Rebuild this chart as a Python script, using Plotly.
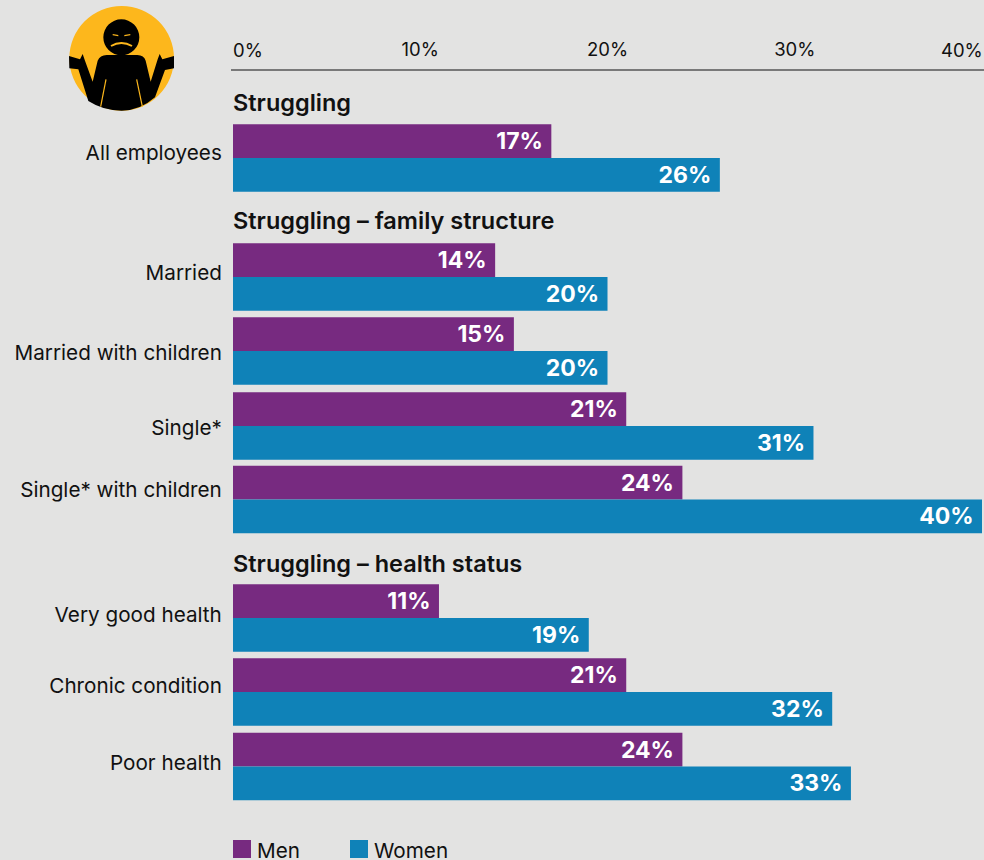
import plotly.graph_objects as go

groups = ["All employees", "Married", "Married with children", "Single*", "Single* with children",
          "Very good health", "Chronic condition", "Poor health"]
men = [17, 14, 15, 21, 24, 11, 21, 24]
women = [26, 20, 20, 31, 40, 19, 32, 33]
headings = ["Struggling", "Struggling – family structure", "Struggling – health status"]
legend_names = ["Men", "Women"]
x_ticks = [0, 10, 20, 30, 40]

# layout constants (page pixels)
W, H = 984, 860
L, R, T = 233, 2, 70
row_pos = [158, 277, 351, 426, 499.5, 618, 692, 766.5]
label_pos = [152.5, 272.5, 352.5, 427.5, 489.5, 614.5, 685.5, 762.5]
heading_pos = [102.5, 220.5, 563.5]
legend_left = [233, 350]

BG = "#e3e3e2"
MEN = "#772a80"
WOMEN = "#0f82b8"
YELLOW = "#fdb71c"
INK = "#111111"
FONT = "Inter"

fig = go.Figure()
for name, vals, col in [(legend_names[0], men, MEN), (legend_names[1], women, WOMEN)]:
    fig.add_trace(go.Bar(
        y=row_pos, x=vals, name=name, orientation="h", marker=dict(color=col, line_width=0),
        text=[f"{v}%\u00a0" for v in vals], textposition="inside", insidetextanchor="end",
        textangle=0, constraintext="none", cliponaxis=False,
        textfont=dict(family=FONT, size=23, color="white", weight=700),
        showlegend=False, hoverinfo="skip"))


def px(x):
    return (x - L) / (W - L - R)


def py(y):
    return 1 - (y - T) / (H - T)


def zx(v):
    return px(50 + v / 3)


def zy(v):
    return py(v / 3)


def path(cmds):
    out = []
    for c in cmds:
        if len(c) == 3:
            out.append(f"{c[0]} {zx(c[1]):.5f} {zy(c[2]):.5f}")
        else:
            out.append(f"{c[0]} {zx(c[1]):.5f} {zy(c[2]):.5f} {zx(c[3]):.5f} {zy(c[4]):.5f}")
    return " ".join(out)


def pshape(p, fill=None, line=None, lw=0):
    return dict(type="path", xref="paper", yref="paper", path=p, fillcolor=fill,
                line=dict(color=line, width=lw) if line else dict(width=0), layer="above")


def circ(cx, cy, r, col):
    return dict(type="circle", xref="paper", yref="paper", x0=zx(cx - r), x1=zx(cx + r),
                y0=zy(cy - r), y1=zy(cy + r), fillcolor=col, line_width=0, layer="above")


body = path([("M", 115, 303), ("L", 85, 208), ("L", 58, 205), ("L", 57, 168), ("L", 90, 178), ("L", 98, 162),
             ("L", 105, 182), ("L", 128, 245), ("L", 143, 182), ("Q", 150, 166, 170, 165), ("L", 262, 165),
             ("Q", 282, 166, 287, 182), ("L", 302, 245), ("L", 323, 178), ("L", 329, 162), ("L", 337, 178),
             ("L", 372, 168), ("L", 372, 205), ("L", 345, 210), ("L", 315, 292), ("Q", 270, 332, 215, 332),
             ("Q", 160, 332, 115, 303)]) + " Z"
shapes = [
    dict(type="line", xref="paper", yref="paper", x0=px(231), x1=px(984), y0=1, y1=1,
         line=dict(color="#111111", width=1.2), layer="above"),
    circ(215, 175, 157, YELLOW),
    circ(214, 112, 54, "#000000"),
    pshape(body, fill="#000000"),
    pshape(path([("M", 188, 102), ("L", 205, 105), ("L", 205, 109), ("L", 188, 106)]) + " Z", fill=YELLOW),
    pshape(path([("M", 241, 102), ("L", 223, 105), ("L", 223, 109), ("L", 241, 106)]) + " Z", fill=YELLOW),
    pshape(path([("M", 183, 138), ("Q", 214, 120, 246, 138)]), line=YELLOW, lw=2),
    pshape(path([("M", 168, 238), ("L", 152, 320)]), line=YELLOW, lw=1.2),
    pshape(path([("M", 260, 238), ("L", 277, 320)]), line=YELLOW, lw=1.2),
]
for left, col in zip(legend_left, [MEN, WOMEN]):
    shapes.append(dict(type="rect", xref="paper", yref="paper", x0=px(left), x1=px(left + 18),
                       y0=py(858), y1=py(840), fillcolor=col, line_width=0, layer="above"))

annotations = [
    dict(x=0, y=py(y), xref="x", yref="paper", text=t, showarrow=False, xanchor="left", yanchor="middle",
         xshift=-2, font=dict(family=FONT, size=23.5, color=INK, weight=600))
    for t, y in zip(headings, heading_pos)
]
annotations += [
    dict(x=0, y=1, xref="x", yref="paper", text=f"{x_ticks[0]}%", showarrow=False, xanchor="left",
         yanchor="bottom", yshift=7, xshift=-2, font=dict(family=FONT, size=18.5, color=INK)),
    dict(x=40, y=1, xref="x", yref="paper", text=f"{x_ticks[-1]}%", showarrow=False, xanchor="right",
         yanchor="bottom", yshift=7, xshift=3, font=dict(family=FONT, size=18.5, color=INK)),
]
annotations += [
    dict(x=px(left + 22), y=py(850), xref="paper", yref="paper", text=t, showarrow=False, xanchor="left",
         yanchor="middle", font=dict(family=FONT, size=20.7, color=INK))
    for t, left in zip(legend_names, legend_left)
]

fig.update_layout(
    width=W, height=H, autosize=False, paper_bgcolor=BG, plot_bgcolor=BG,
    margin=dict(l=L, r=R, t=T, b=0, pad=0),
    barmode="group", bargap=0.08, bargroupgap=0,
    font=dict(family=FONT, color=INK),
    xaxis=dict(range=[0, 40], side="top", tickvals=x_ticks[1:-1], ticktext=[f"{t}%" for t in x_ticks[1:-1]],
               showgrid=False, zeroline=False, showline=False, ticks="outside", ticklen=6,
               tickcolor="rgba(0,0,0,0)", tickfont=dict(family=FONT, size=18.5, color=INK)),
    yaxis=dict(range=[H, T], tickmode="array", tickvals=label_pos, ticktext=groups, showgrid=False,
               zeroline=False, showline=False, ticks="outside", ticklen=6, tickcolor="rgba(0,0,0,0)",
               tickfont=dict(family=FONT, size=20.7, color=INK)),
    shapes=shapes, annotations=annotations, showlegend=False,
)
fig.write_html("out.html", config=dict(displayModeBar=False, responsive=False),
               post_script="document.body.style.margin='0';document.body.style.background='%s';" % BG)
